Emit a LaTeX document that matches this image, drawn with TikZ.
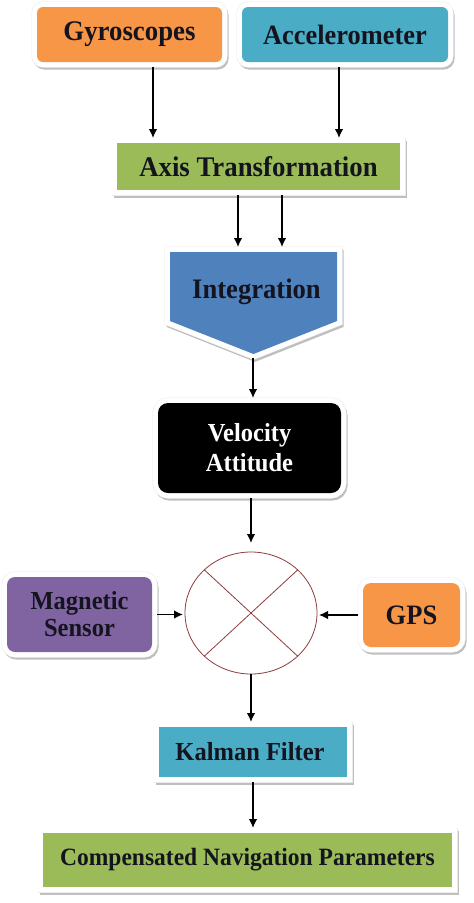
\documentclass[tikz,border=0pt]{standalone}
\usepackage{fontspec}
\setmainfont{Liberation Serif}
\usetikzlibrary{arrows.meta,shapes.geometric,calc}
\definecolor{orng}{HTML}{F79646}
\definecolor{aqua}{HTML}{4BACC6}
\definecolor{grn}{HTML}{9BBB59}
\definecolor{purp}{HTML}{8064A2}
\definecolor{intb}{HTML}{4F81BD}
\definecolor{txt}{HTML}{14141E}
\definecolor{crim}{HTML}{8C3C3C}
\newcommand{\tx}[1]{\scalebox{1}[1.06]{#1}}
\newcommand{\fs}[1]{\fontsize{#1}{1.15\dimexpr#1pt\relax}\selectfont\bfseries}
\begin{document}
\begin{tikzpicture}[x=1pt,y=-1pt,
  frame/.style={preaction={draw=black!25,line width=10pt,transform canvas={shift={(1.5pt,-2.5pt)}}},
                preaction={draw=black!8,line width=11pt},
                preaction={draw=white,line width=10pt}},
  box/.style={frame, fill=#1, rectangle, inner sep=0pt, outer sep=5pt,
              font=\fs{24.5}, text=txt, align=center},
  arr/.style={draw=black, line width=1.4pt, -{Latex[length=9pt,width=8.5pt]}}]
\useasboundingbox (0,0) rectangle (474,903);
\fill[white] (0,0) rectangle (474,903);

\node[box=orng, rounded corners=6pt, minimum width=185pt, minimum height=55pt, font=\fs{26.8}] (gyro) at (129.5,34.5) {\tx{Gyroscopes}};
\node[box=aqua, rounded corners=6pt, minimum width=206pt, minimum height=55pt, font=\fs{26.4}] (accel) at (345,34.5) {\tx{Accelerometer}};
\node[box=grn, minimum width=283pt, minimum height=47pt, font=\fs{26.8}] (axis) at (258.5,166.5) {\tx{Axis Transformation}};

\path[frame, fill=intb] (170,252) -- (337,252) -- (337,321) -- (253.5,354) -- (170,321) -- cycle;
\node[font=\fs{26.6}, text=txt] (integ) at (256.5,292) {\tx{Integration}};
\coordinate (integtop) at (253,247);
\coordinate (integtip) at (253,358);

\node[box=black, text=white, rounded corners=10pt, minimum width=183pt, minimum height=90pt,
      font=\fontsize{24.5}{30}\selectfont\bfseries] (vel) at (249.5,448) {\tx{Velocity}\\\tx{Attitude}};

\node[ellipse, draw=crim, line width=0.8pt, minimum width=132pt, minimum height=122pt, inner sep=0pt, outer sep=0pt] (sum) at (251,613) {};
\draw[crim, line width=0.8pt] (sum.north east) -- (sum.south west) (sum.north west) -- (sum.south east);

\node[box=purp, rounded corners=8pt, minimum width=145pt, minimum height=75pt,
      font=\fontsize{24.5}{27}\selectfont\bfseries] (mag) at (79.5,614.5) {\tx{Magnetic}\\\tx{Sensor}};
\node[box=orng, rounded corners=8pt, minimum width=97pt, minimum height=64pt, font=\fs{26.5}] (gps) at (411.5,615) {\tx{GPS}};
\node[box=aqua, minimum width=188pt, minimum height=50pt] (kal) at (253,752) {\tx{Kalman Filter}\hspace*{6pt}};
\node[box=grn, minimum width=409pt, minimum height=54pt, font=\fs{23.5}] (comp) at (247.5,860) {\tx{Compensated Navigation Parameters}};

\draw[arr] ([xshift=23.5pt]gyro.south) -- ([xshift=23.5pt]gyro.south |- axis.north);
\draw[arr] ([xshift=-6pt]accel.south) -- ([xshift=-6pt]accel.south |- axis.north);
\draw[arr] ([xshift=-20.5pt]axis.south) -- ([xshift=-20.5pt]axis.south |- integtop);
\draw[arr] ([xshift=23.5pt]axis.south) -- ([xshift=23.5pt]axis.south |- integtop);
\draw[arr] (integtip) -- (integtip |- vel.north);
\draw[arr] (vel.south -| sum.north) -- ([yshift=9pt]sum.north);
\draw[arr] (mag.east) -- ([xshift=-2pt]mag.east -| sum.west);
\draw[arr] (gps.west) -- ([xshift=2pt]gps.west -| sum.east);
\draw[arr] (sum.south) -- (sum.south |- kal.north);
\draw[arr] (kal.south) -- (kal.south |- comp.north);
\end{tikzpicture}
\end{document}
